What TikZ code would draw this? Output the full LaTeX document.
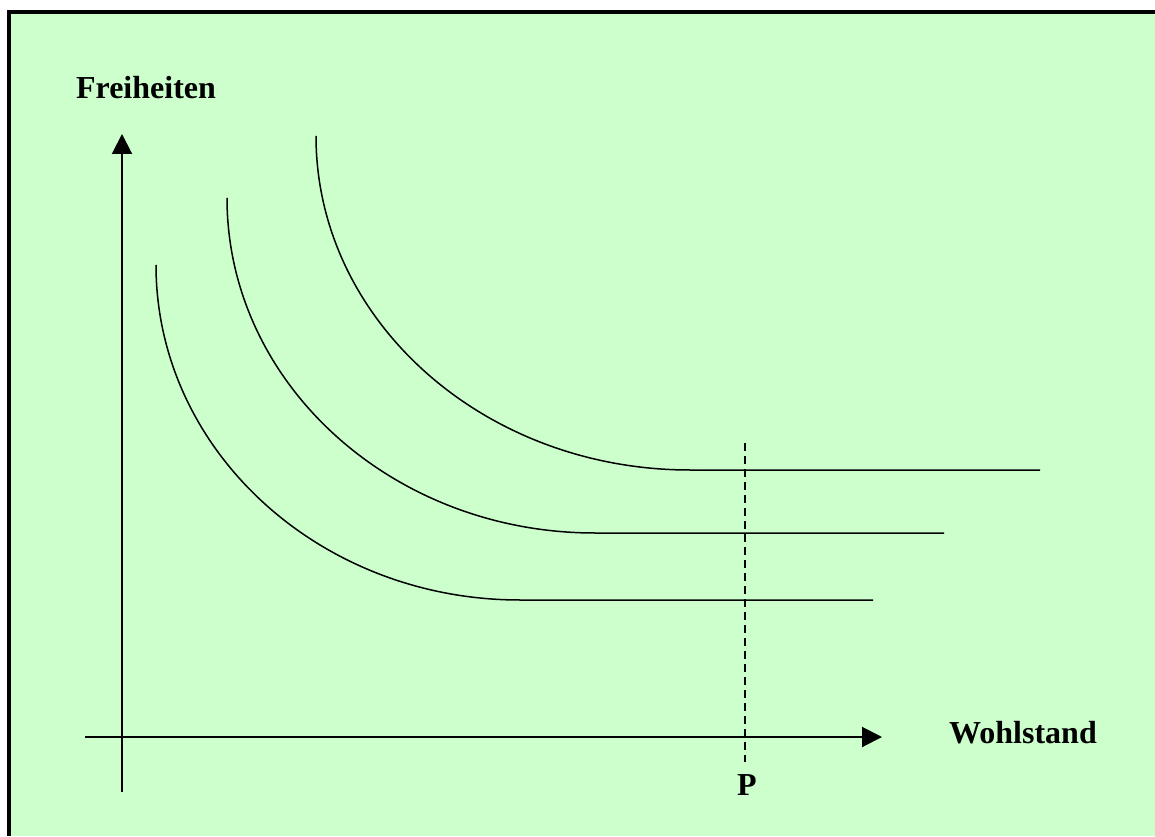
\documentclass[tikz,border=0pt]{standalone}
\usepackage{fontspec}
\setmainfont{Liberation Serif}
\usepackage{tikz}
\usetikzlibrary{arrows.meta,positioning}
\definecolor{bgmint}{HTML}{CCFFCC}

\begin{document}
\begin{tikzpicture}[
    x=1pt, y=1pt,
    axis/.style={line width=2pt, -{Triangle[length=20pt, width=20pt]}},
    curve/.style={line width=1.5pt},
    marker/.style={line width=1.5pt, dash pattern=on 8pt off 5pt},
    axislabel/.style={font=\fontsize{32}{38}\selectfont\bfseries, anchor=base, inner sep=0pt}
]
  % Frame (only left and top edges are in view)
  \useasboundingbox (0,0) rectangle (1155,836);
  \fill[bgmint] (9,0) rectangle (1155,824);
  \draw[line width=4pt] (9,0) -- (9,824) -- (1155,824);

  % Axes
  \coordinate (ybot) at (122,44);
  \coordinate (ytop) at (122,702);
  \coordinate (xleft) at (85,99);
  \coordinate (xright) at (882,99);
  \draw[axis] (ybot) -- (ytop);
  \draw[axis] (xleft) -- (xright);

  % Labels
  \node[axislabel] (freiheiten) at (146,737) {Freiheiten};
  \node[axislabel] (wohlstand) at (1023,93) {Wohlstand};
  \node[axislabel] (p) at (747,41) {P};

  % Curves
  \coordinate (c1) at (156,571);
  \coordinate (c2) at (227,638);
  \coordinate (c3) at (316,700);
  \draw[curve] (c1) arc[start angle=180, end angle=270, x radius=364, y radius=335] -- (873,236);
  \draw[curve] (c2) arc[start angle=180, end angle=270, x radius=368, y radius=335] -- (944,303);
  \draw[curve] (c3) arc[start angle=180, end angle=270, x radius=374, y radius=334] -- (1040,366);

  % Marker at P
  \coordinate (ptop) at (745,393);
  \coordinate (pbot) at (745,74);
  \draw[marker] (ptop) -- (pbot);
\end{tikzpicture}
\end{document}
